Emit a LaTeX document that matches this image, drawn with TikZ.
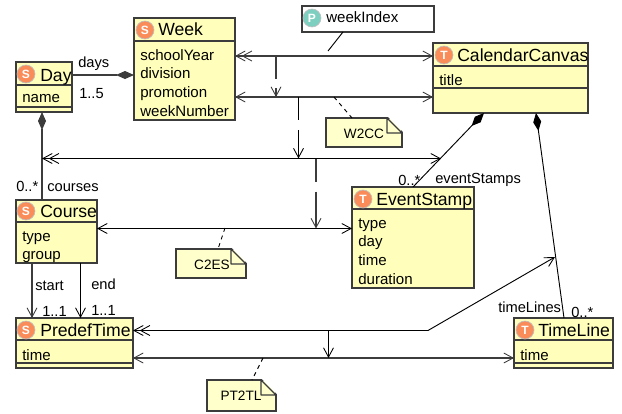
\documentclass[tikz,border=0pt]{standalone}
\usepackage{fontspec}
\setmainfont{Liberation Sans}
\usetikzlibrary{arrows.meta, calc}
\definecolor{classfill}{RGB}{255, 255, 187}
\definecolor{notefill}{RGB}{255, 255, 204}
\definecolor{edgedark}{RGB}{60, 60, 60}
\definecolor{stereoorange}{RGB}{250, 140, 90}
\definecolor{stereoteal}{RGB}{125, 208, 192}
\tikzset{
  umlopen/.tip={Straight Barb[length=7pt, width=7.5pt, line width=.65pt]},
  umldouble/.tip={Straight Barb[length=7pt, width=7.5pt, line width=.65pt, sep=-3pt] Straight Barb[length=7pt, width=7.5pt, line width=.65pt]},
  umldiamond/.tip={Diamond[length=13.5pt, width=6pt]},
  classbox/.style 2 args={draw=edgedark, fill=classfill, line width=1.1pt, anchor=north west, inner sep=0pt, outer sep=0pt, minimum width=#1*0.75pt, minimum height=#2*0.75pt},
  notebox/.style 2 args={draw=edgedark, fill=notefill, line width=.9pt, anchor=north west, inner sep=0pt, outer sep=0pt, minimum width=#1*0.75pt, minimum height=#2*0.75pt},
  divider/.style={draw=edgedark, line width=1pt},
  classname/.style={anchor=base west, inner sep=0pt, font=\fontsize{13.2}{15}\selectfont},
  attrlist/.style={anchor=north west, inner sep=0pt, align=left, font=\fontsize{11.3}{14}\selectfont},
  notetext/.style={inner sep=0pt, font=\fontsize{10.2}{12}\selectfont},
  rolelabel/.style={anchor=base west, inner sep=0pt, font=\fontsize{11}{13}\selectfont},
  sbadge/.style={circle, fill=stereoorange, draw=black!25, line width=.5pt, minimum size=13.5pt, inner sep=0pt, text=white, font=\fontsize{9}{10}\bfseries\selectfont},
  pbadge/.style={sbadge, fill=stereoteal},
  heavy/.style={draw=edgedark, line width=.85pt},
  thin line/.style={draw=black, line width=.7pt},
}
\begin{document}
\begin{tikzpicture}[x=0.75pt, y=-0.75pt]
  \useasboundingbox (0,0) rectangle (622,414);

  % Day
  \node[classbox={56}{50}] (day) at (16,62) {};
  \draw[divider] (day.west |- 0,85) -- (day.east |- 0,85);
  \draw[divider] (day.west |- 0,107) -- (day.east |- 0,107);
  \node[sbadge] (dayIcon) at (26,74) {S};
  \node[classname] (dayName) at (40,81) {Day};
  \node[attrlist] (dayAttrs) at (22,94) {name};

  % Week
  \node[classbox={101}{102}] (week) at (134,18) {};
  \draw[divider] (week.west |- 0,41) -- (week.east |- 0,41);
  \node[sbadge] (weekIcon) at (145,30) {S};
  \node[classname] (weekName) at (158,36) {Week};
  \node[attrlist] (weekAttrs) at (140,49) {schoolYear\\division\\promotion\\weekNumber};

  % Course
  \node[classbox={81}{63}] (course) at (16,200) {};
  \draw[divider] (course.west |- 0,222) -- (course.east |- 0,222);
  \node[sbadge] (courseIcon) at (26,211) {S};
  \node[classname] (courseName) at (40,217) {Course};
  \node[attrlist] (courseAttrs) at (22,231) {type\\group};

  % PredefTime
  \node[classbox={117}{50}] (predef) at (16,318) {};
  \draw[divider] (predef.west |- 0,340) -- (predef.east |- 0,340);
  \draw[divider] (predef.west |- 0,363) -- (predef.east |- 0,363);
  \node[sbadge] (predefIcon) at (26,330) {S};
  \node[classname] (predefName) at (40,336) {PredefTime};
  \node[attrlist] (predefAttrs) at (22,349) {time};

  % CalendarCanvas
  \node[classbox={155}{70}] (canvas) at (433,43) {};
  \draw[divider] (canvas.west |- 0,66) -- (canvas.east |- 0,66);
  \draw[divider] (canvas.west |- 0,88) -- (canvas.east |- 0,88);
  \node[sbadge] (canvasIcon) at (444,55) {T};
  \node[classname] (canvasName) at (457,61) {CalendarCanvas};
  \node[attrlist] (canvasAttrs) at (439,74) {title};

  % EventStamp
  \node[classbox={122}{101}] (stamp) at (352,187) {};
  \draw[divider] (stamp.west |- 0,209) -- (stamp.east |- 0,209);
  \node[sbadge] (stampIcon) at (363,199) {T};
  \node[classname] (stampName) at (376,205) {EventStamp};
  \node[attrlist] (stampAttrs) at (358,218) {type\\day\\time\\duration};

  % TimeLine
  \node[classbox={99}{50}] (timeline) at (514,318) {};
  \draw[divider] (timeline.west |- 0,340) -- (timeline.east |- 0,340);
  \draw[divider] (timeline.west |- 0,363) -- (timeline.east |- 0,363);
  \node[sbadge] (timelineIcon) at (525,330) {T};
  \node[classname] (timelineName) at (538,336) {TimeLine};
  \node[attrlist] (timelineAttrs) at (520,349) {time};

  % weekIndex
  \node[classbox={132}{26}, fill=white, line width=.9pt] (index) at (302,6) {};
  \node[pbadge] (indexIcon) at (312,18) {P};
  \node[classname, font=\fontsize{11.3}{14}\selectfont] (indexName) at (326,22) {weekIndex};

  % Notes
  \node[notebox={76}{29}] (w2cc) at (326,118) {};
  \node[notebox={70}{29}] (c2es) at (176,249) {};
  \node[notebox={69}{31}] (pt2tl) at (207,380) {};
  \foreach \n in {w2cc, c2es, pt2tl} {
    \fill[white] ($(\n.north east)+(-15,-2)$) -- ($(\n.north east)+(2,-2)$) -- ($(\n.north east)+(2,15)$) -- cycle;
    \draw[edgedark, line width=.9pt, line join=round] ($(\n.north east)+(0,15)$) -- ($(\n.north east)+(-15,0)$) -- ($(\n.north east)+(-15,15)$) -- cycle;
  }
  \node[notetext] (w2ccText) at (364,134) {W2CC};
  \node[notetext] (c2esText) at (212,265) {C2ES};
  \node[notetext] (pt2tlText) at (241,396) {PT2TL};

  % Junction points
  \coordinate (rowA) at (276,56);
  \coordinate (rowB) at (276,97);
  \coordinate (rowC) at (298.5,97);
  \coordinate (rowD) at (298.5,158.5);
  \coordinate (rowE) at (316,158.5);
  \coordinate (rowF) at (316,228.5);
  \coordinate (rowG) at (328.5,330.5);
  \coordinate (rowH) at (328.5,358);
  \coordinate (leftEnd) at (42,158.5);
  \coordinate (stampHit) at (441,158.5);
  \coordinate (bendPt) at (428,330.5);
  \coordinate (lineHit) at (555,257);

  % Compositions
  \draw[heavy, {umldiamond}-] (week.west |- 0,75) -- (day.east |- 0,75);
  \draw[heavy, {umldiamond}-] (day.south -| 42,0) -- (course.north -| 42,0);
  \draw[thin line, {umldiamond}-] (484,113) -- (413,187);
  \draw[thin line, {umldiamond}-] (536,113) -- (564,318);

  % Mappings
  \draw[heavy, {umldouble}-{umlopen}] (week.east |- rowA) -- (canvas.west |- rowA);
  \draw[heavy, {umlopen}-{umlopen}] (week.east |- rowB) -- (canvas.west |- rowB);
  \draw[heavy, -{umlopen}, dash pattern=on 17.25pt off 6.75pt on 20pt] (rowA) -- (rowB);
  \draw[thin line, -{umlopen}, dash pattern=on 17.25pt off 7.5pt on 30pt] (rowC) -- (rowD);
  \draw[thin line, {umldouble}-{umlopen}] (leftEnd) -- (stampHit);
  \draw[heavy, -{umlopen}, dash pattern=on 17.25pt off 7.5pt on 40pt] (rowE) -- (rowF);
  \draw[thin line, {umlopen}-{umlopen}] (course.east |- rowF) -- (stamp.west |- rowF);
  \draw[thin line, {umldouble}-{umlopen}] (predef.east |- rowG) -- (bendPt) -- (lineHit);
  \draw[heavy, {umlopen}-{umlopen}] (predef.east |- rowH) -- (timeline.west |- rowH);
  \draw[thin line, -{umlopen}] (rowG) -- (rowH);
  \draw[heavy, -{umlopen}] (course.south -| 32,0) -- (predef.north -| 32,0);
  \draw[thin line, -{umlopen}] (course.south -| 80.5,0) -- (predef.north -| 80.5,0);

  % Note links
  \draw[thin line] (index.south -| 343,0) -- (328,51);
  \draw[thin line, dashed] (334,97) -- (w2cc.north -| 352,0);
  \draw[thin line, dashed] (225,228) -- (c2es.north -| 218,0);
  \draw[thin line, dashed] (263,358) -- (pt2tl.north -| 252,0);

  % Role labels
  \node[rolelabel] (daysRole) at (78,67) {days};
  \node[rolelabel] (daysMult) at (79,98) {1..5};
  \node[rolelabel] (coursesMult) at (16,191) {0..*};
  \node[rolelabel] (coursesRole) at (47,191) {courses};
  \node[rolelabel] (stampsMult) at (398,185) {0..*};
  \node[rolelabel] (stampsRole) at (435,183) {eventStamps};
  \node[rolelabel] (linesRole) at (498,312) {timeLines};
  \node[rolelabel] (linesMult) at (571,317) {0..*};
  \node[rolelabel] (startRole) at (35,290) {start};
  \node[rolelabel] (startMult) at (42,316) {1..1};
  \node[rolelabel] (endRole) at (91,289) {end};
  \node[rolelabel] (endMult) at (91,315) {1..1};
\end{tikzpicture}
\end{document}
